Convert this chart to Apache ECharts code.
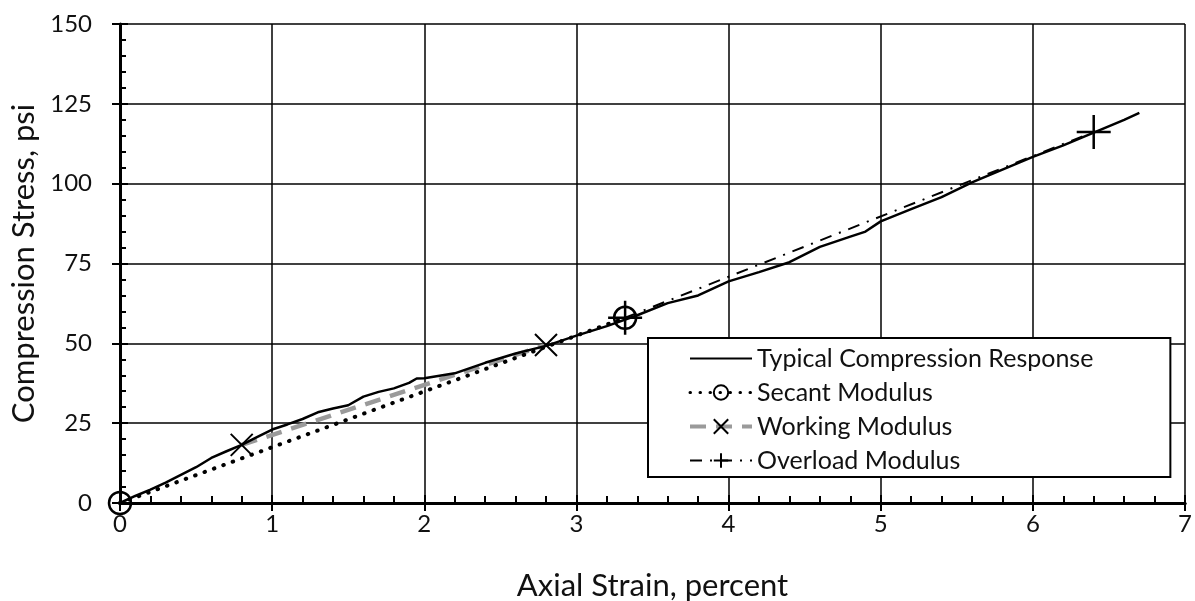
<!DOCTYPE html>
<html lang="en">
<head>
    <meta charset="UTF-8">
    <title>Compression response</title>
    <script src="https://cdn.jsdelivr.net/npm/echarts@6/dist/echarts.min.js"></script>
    <style>
        html, body {margin: 0; padding: 0; background: #fff;}
        #main {width: 1195px; height: 601px;}
    </style>
</head>
<body>
    <div id="main"></div>
    <script>
    // typical compression response
    var typStrain = [0, 0.1, 0.2, 0.3, 0.4, 0.5, 0.6, 0.7, 0.8, 0.9, 1.0, 1.1, 1.2, 1.3, 1.4, 1.5, 1.6, 1.7, 1.8, 1.9, 1.95, 2.0,
        2.2, 2.4, 2.6, 2.8, 3.0, 3.2, 3.4, 3.6, 3.8, 4.0, 4.2, 4.4, 4.6, 4.8, 4.9, 5.0, 5.2, 5.4, 5.6, 5.8, 6.0, 6.2, 6.4, 6.6, 6.7];
    var typStress = [0, 2.2, 4.2, 6.4, 8.8, 11.2, 14.1, 16.2, 18.2, 20.6, 23.0, 24.6, 26.3, 28.4, 29.6, 30.6, 33.3, 34.8, 35.9, 37.6, 39.0, 39.1,
        40.6, 43.9, 46.8, 49.2, 52.4, 55.4, 58.8, 62.6, 65.0, 69.4, 72.3, 75.4, 80.2, 83.4, 85.0, 88.2, 92.0, 95.8, 100.4, 104.4, 108.4, 112.0, 116.0, 120.0, 122.2];

    var secantStrain = [0, 3.32];
    var secantStress = [0, 58];
    var workingStrain = [0.8, 2.8];
    var workingStress = [18.2, 49.5];
    var overloadStrain = [3.32, 6.4];
    var overloadStress = [58, 116.2];

    var seriesNames = ['Typical Compression Response', 'Secant Modulus', 'Working Modulus', 'Overload Modulus'];

    function pairs(xs, ys) {
        return xs.map(function (x, i) { return [x, ys[i]]; });
    }

    var FONT = 'Lato';
    var X_MARK = 'path://M0,0L10,10M10,0L0,10';
    var PLUS_MARK = 'path://M5,0L5,10M0,5L10,5';

    var myChart = echarts.init(document.getElementById('main'));

    // inner ticks on the main axes, outer ticks on twin axes
    var option = {
        animation: false,
        backgroundColor: '#fff',
        grid: {left: 120, right: 10, top: 24, bottom: 98, outerBoundsMode: 'none'},
        legend: {
            orient: 'vertical',
            left: 648,
            top: 338,
            padding: [8, 77, 4, 40],
            itemWidth: 62,
            itemHeight: 18,
            itemGap: 9,
            backgroundColor: '#fff',
            borderColor: '#000',
            borderWidth: 2,
            borderRadius: 0,
            textStyle: {fontFamily: FONT, fontSize: 25, color: '#111'},
            data: [
                {name: seriesNames[0]},
                {name: seriesNames[1], lineStyle: {width: 3}},
                {name: seriesNames[2], lineStyle: {width: 4}},
                {name: seriesNames[3]}
            ]
        },
        xAxis: [{
            type: 'value',
            min: 0, max: 7, interval: 1,
            name: 'Axial Strain, percent',
            nameLocation: 'middle',
            nameGap: 67,
            nameTextStyle: {fontFamily: FONT, fontSize: 31, color: '#111'},
            axisLine: {onZero: false, lineStyle: {color: '#000', width: 3}},
            axisTick: {inside: true, length: 8, lineStyle: {color: '#000', width: 2}},
            minorTick: {show: true, splitNumber: 5, length: 7, lineStyle: {color: '#000', width: 2}},
            axisLabel: {fontFamily: FONT, fontSize: 24, color: '#111', margin: 9},
            splitLine: {show: true, lineStyle: {color: '#000', width: 1.5}}
        }, {
            type: 'value',
            min: 0, max: 7, interval: 1,
            position: 'bottom',
            axisLine: {show: false},
            axisTick: {inside: false, length: 8, lineStyle: {color: '#000', width: 2}},
            axisLabel: {show: false},
            splitLine: {show: false}
        }, {
            type: 'value',
            min: 0, max: 7, interval: 1,
            position: 'top',
            axisLine: {show: true, lineStyle: {color: '#000', width: 3}},
            axisTick: {show: false},
            axisLabel: {show: false},
            splitLine: {show: false}
        }],
        yAxis: [{
            type: 'value',
            min: 0, max: 150, interval: 25,
            name: 'Compression Stress, psi',
            nameLocation: 'middle',
            nameGap: 78,
            nameTextStyle: {fontFamily: FONT, fontSize: 31, color: '#111'},
            axisLine: {show: true, onZero: false, lineStyle: {color: '#000', width: 3}},
            axisTick: {show: true, inside: true, length: 8, lineStyle: {color: '#000', width: 2}},
            minorTick: {show: true, splitNumber: 5, length: 6, lineStyle: {color: '#000', width: 2}},
            axisLabel: {fontFamily: FONT, fontSize: 24, color: '#111', margin: 28},
            splitLine: {show: true, lineStyle: {color: '#000', width: 1.5}}
        }, {
            type: 'value',
            min: 0, max: 150, interval: 25,
            position: 'left',
            axisLine: {show: false},
            axisTick: {show: true, inside: false, length: 8, lineStyle: {color: '#000', width: 2}},
            axisLabel: {show: false},
            splitLine: {show: false}
        }],
        series: [
            {
                name: seriesNames[0],
                type: 'line',
                z: 3,
                symbol: 'none',
                itemStyle: {color: 'transparent'},
                lineStyle: {color: '#000', width: 2.5},
                data: pairs(typStrain, typStress)
            },
            {
                name: seriesNames[1],
                type: 'line',
                z: 4,
                symbol: 'circle',
                symbolSize: 22,
                itemStyle: {color: 'transparent', borderColor: '#000', borderWidth: 2.5},
                lineStyle: {color: '#000', width: 4, type: [0.5, 9.5], cap: 'round'},
                data: pairs(secantStrain, secantStress)
            },
            {
                name: seriesNames[2],
                type: 'line',
                z: 2,
                symbol: X_MARK,
                symbolSize: 22,
                itemStyle: {color: 'transparent', borderColor: '#000', borderWidth: 2},
                lineStyle: {color: '#9a9a9a', width: 4.5, type: [16, 10]},
                data: pairs(workingStrain, workingStress)
            },
            {
                name: seriesNames[3],
                type: 'line',
                z: 5,
                symbol: PLUS_MARK,
                symbolSize: 34,
                itemStyle: {color: 'transparent', borderColor: '#000', borderWidth: 2.5},
                lineStyle: {color: '#000', width: 2, type: [12, 8, 2, 8]},
                data: pairs(overloadStrain, overloadStress)
            }
        ]
    };
    myChart.setOption(option);
    </script>
</body>
</html>
